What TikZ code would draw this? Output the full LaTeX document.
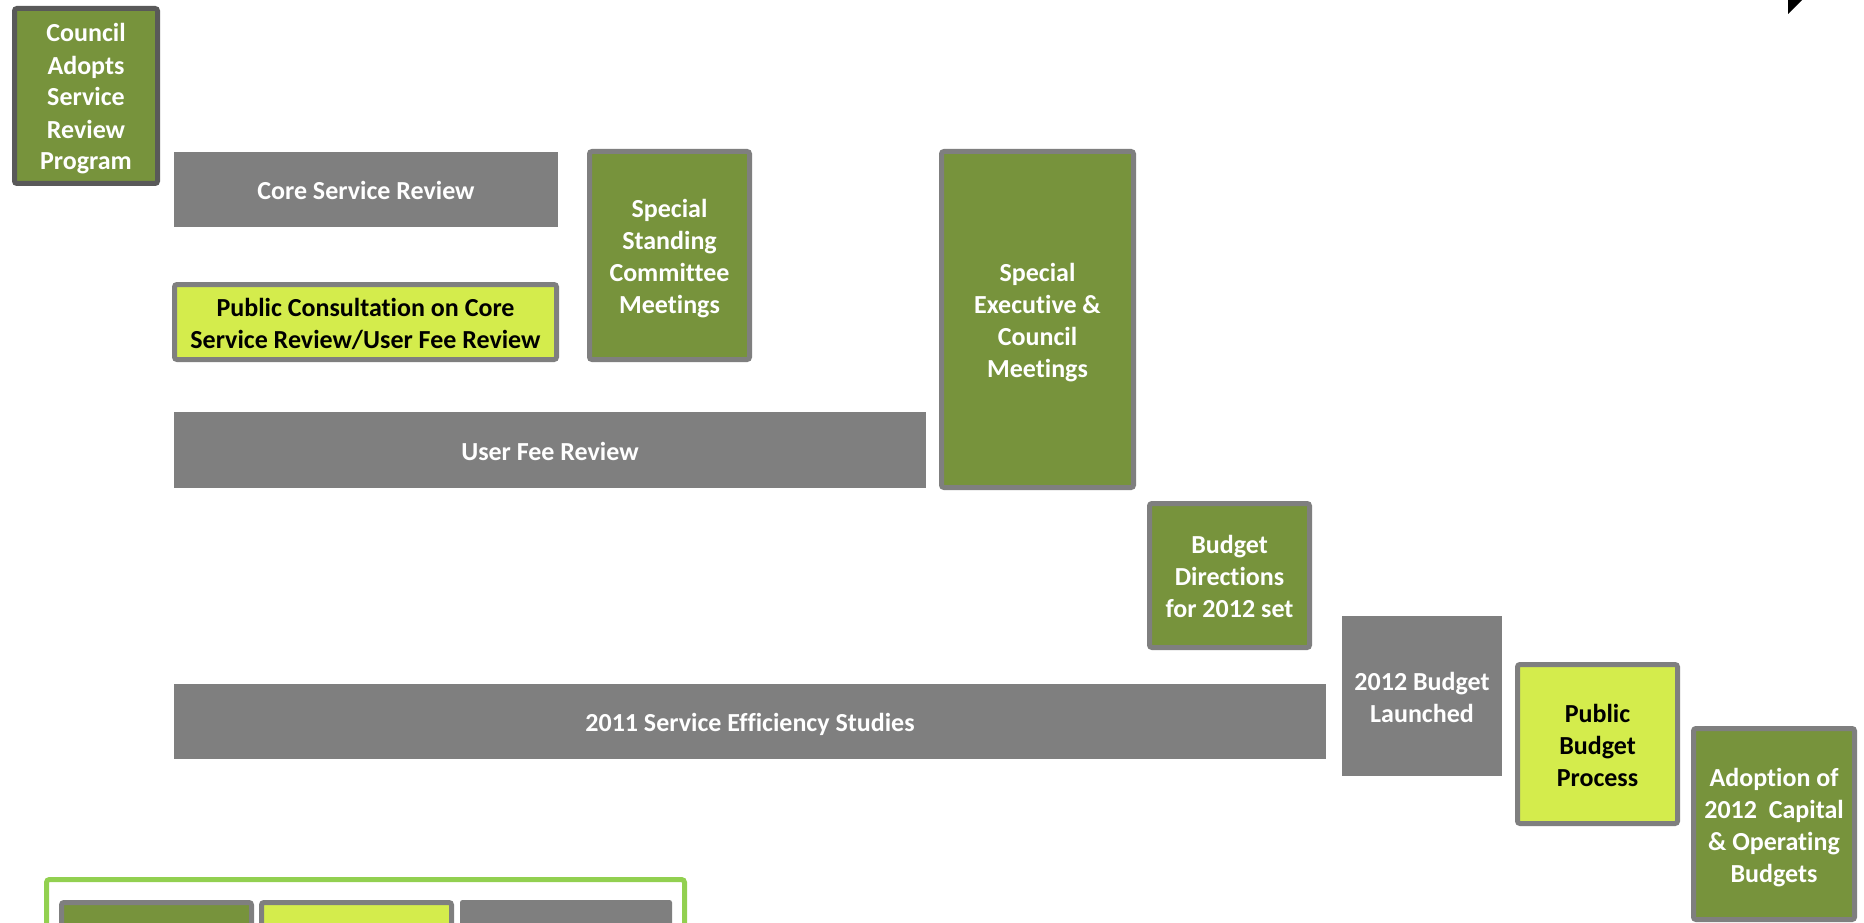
\documentclass[tikz,border=0pt]{standalone}
\usepackage{fontspec}
\setmainfont{Carlito}[Ligatures=NoCommon]
\definecolor{cGreen}{RGB}{119,147,60}
\definecolor{cLime}{RGB}{212,236,76}
\definecolor{cGray}{RGB}{127,127,127}
\definecolor{cDark}{RGB}{89,89,89}
\definecolor{cFrame}{RGB}{146,208,80}
\newcommand\boxfont{\fontsize{26}{32}\selectfont\bfseries}
\newcommand\tp{\rule{0pt}{28pt}}
\newcommand\bt{\rule[-8pt]{0pt}{8pt}}
\tikzset{
  base/.style={inner sep=0pt, outer sep=0pt, align=center, font=\boxfont},
  grnbox/.style={base, fill=cGreen, draw=cGray, line width=5pt, rounded corners=2.5pt, text=white},
  limebox/.style={base, fill=cLime, draw=cGray, line width=5pt, rounded corners=2.5pt, text=black},
  grybox/.style={base, fill=cGray, text=white},
}
\begin{document}
\begin{tikzpicture}[x=1pt,y=-1pt]
\fill[white] (0,0) rectangle (1864,923);
\clip (0,0) rectangle (1864,923);
\node[grnbox, draw=cDark, minimum width=143pt, minimum height=175pt] (council) at (86,96)
  {\tp Council\\Adopts\\Service\\Review\\Program\bt};
\node[grybox, minimum width=384pt, minimum height=75pt] (core) at (366,189.5) {\tp Core Service Review\bt};
\node[limebox, minimum width=382pt, minimum height=75pt] (pubcons) at (365.5,322)
  {\tp Public Consultation on Core\\Service Review/User Fee Review\bt};
\node[grnbox, minimum width=160pt, minimum height=208pt] (standing) at (669.5,255.5)
  {\tp Special\\Standing\\Committee\\Meetings\bt};
\node[grnbox, minimum width=192pt, minimum height=336pt] (exec) at (1037.5,319.5)
  {\tp Special\\Executive \&\\Council\\Meetings\bt};
\node[grybox, minimum width=752pt, minimum height=76pt] (userfee) at (550,450) {\tp User Fee Review\bt};
\node[grnbox, minimum width=160pt, minimum height=144pt] (budgetdir) at (1229.5,575.5)
  {\tp Budget\\Directions\\for 2012 set\bt};
\node[grybox, minimum width=1152pt, minimum height=75pt] (effic) at (750,721.5) {\tp 2011 Service Efficiency Studies\bt};
\node[grybox, minimum width=160pt, minimum height=160pt] (launched) at (1422,696)
  {\tp 2012 Budget\\Launched\bt};
\node[limebox, minimum width=160pt, minimum height=159pt] (pubbudget) at (1597.5,744)
  {\tp Public\\Budget\\Process\bt};
\node[grnbox, minimum width=161pt, minimum height=191pt] (adoption) at (1774,824)
  {\tp Adoption of\\2012\ \ Capital\\\& Operating\\Budgets\bt};
% legend
\draw[cFrame, line width=5pt, rounded corners=3pt] (46.5,879.5) rectangle (684.5,960);
\node[grnbox, minimum width=190pt, minimum height=60pt, anchor=north west] (leg1) at (61.5,902.5) {};
\node[limebox, minimum width=190pt, minimum height=60pt, anchor=north west] (leg2) at (261.5,902.5) {};
\node[grybox, rounded corners=2.5pt, minimum width=212pt, minimum height=60pt, anchor=north west] (leg3) at (460,900) {};
% corner mark
\fill[black] (1788,-1) -- (1803,-1) -- (1788,14) -- cycle;
\end{tikzpicture}
\end{document}
